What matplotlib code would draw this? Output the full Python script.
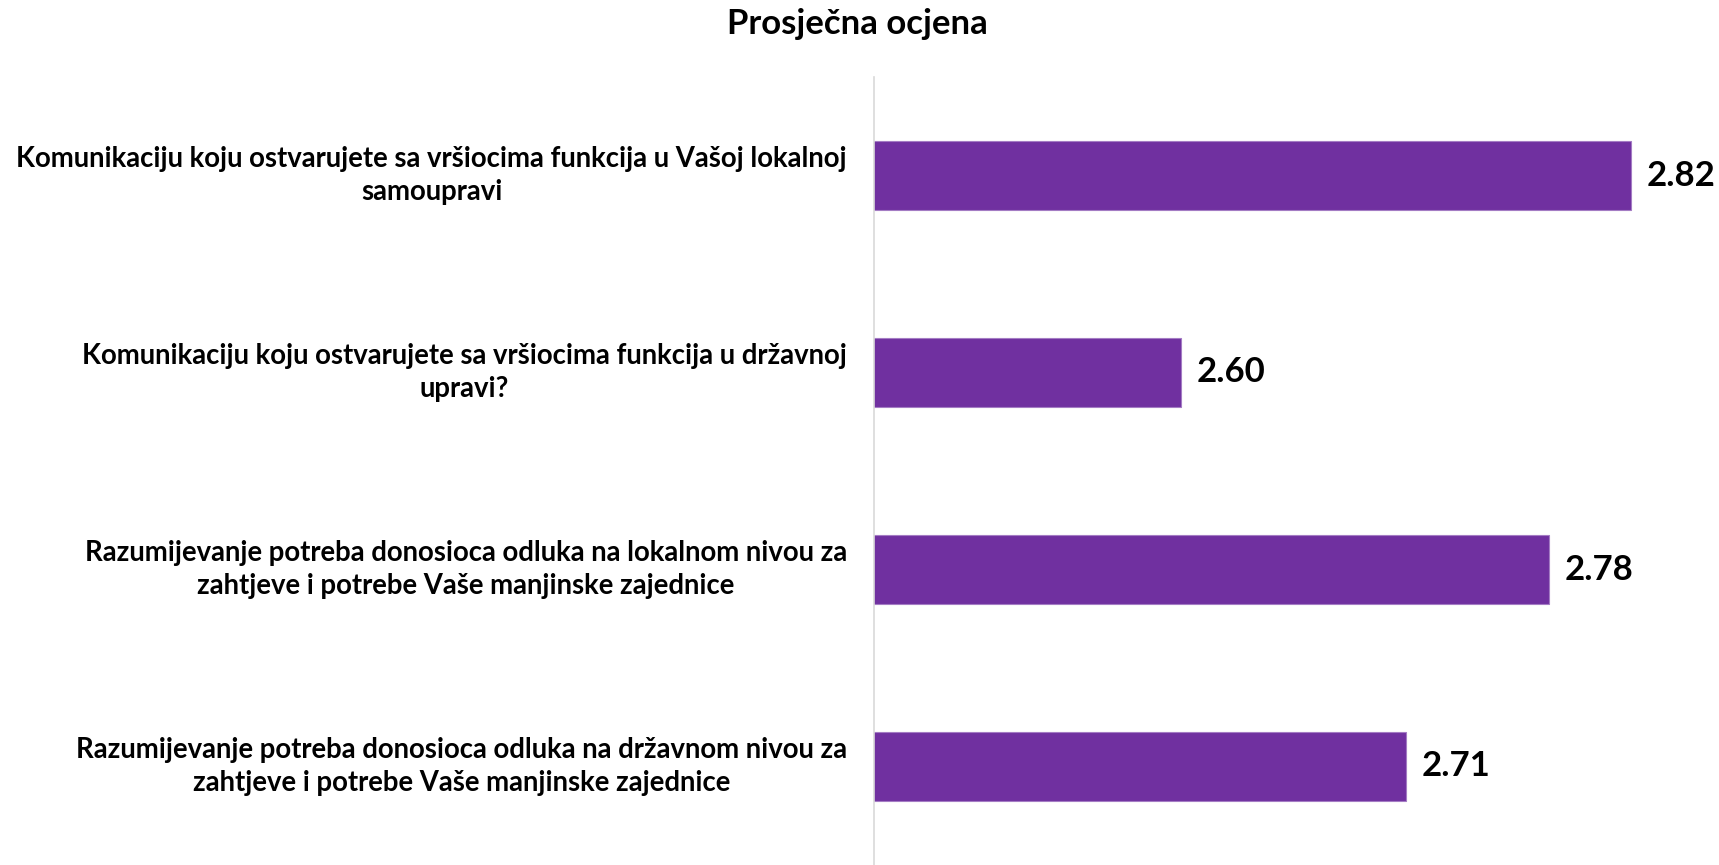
import matplotlib.pyplot as plt
from matplotlib.transforms import blended_transform_factory

plt.rcParams['font.family'] = ['Lato', 'DejaVu Sans']

kategorije = [
    'Komunikaciju koju ostvarujete sa vršiocima funkcija u Vašoj lokalnoj\nsamoupravi',
    'Komunikaciju koju ostvarujete sa vršiocima funkcija u državnoj\nupravi?',
    'Razumijevanje potreba donosioca odluka na lokalnom nivou za\nzahtjeve i potrebe Vaše manjinske zajednice',
    'Razumijevanje potreba donosioca odluka na državnom nivou za\nzahtjeve i potrebe Vaše manjinske zajednice',
]
vrijednosti = [2.82, 2.60, 2.78, 2.71]
naslov = 'Prosječna ocjena'

boja = '#7030A0'

fig = plt.figure(figsize=(17.19, 8.65), dpi=100)
ax = fig.add_axes([874 / 1719, 0.0, 1 - 874 / 1719, 1 - 77 / 865])

pozicije = list(range(len(vrijednosti)))
ax.barh(pozicije, vrijednosti, height=0.35, left=0, color=boja,
        edgecolor='#a47cc4', linewidth=0.8)
ax.set_xlim(2.45, 2.863)
ax.set_ylim(len(vrijednosti) - 0.5, -0.5)

for p, v in zip(pozicije, vrijednosti):
    ax.annotate(f'{v:.2f}', (v, p), xytext=(11, 0), textcoords='offset points',
                va='center', ha='left', fontsize=25, fontweight='bold')

trans = blended_transform_factory(fig.transFigure, ax.transData)
for p, k in zip(pozicije, kategorije):
    ax.text(847 / 1719, p, k, transform=trans, ha='right', va='center',
            multialignment='center', fontsize=19.8, fontweight='bold',
            linespacing=1.35)

ax.set_xticks([])
ax.set_yticks([])
for s in ['top', 'right', 'bottom']:
    ax.spines[s].set_visible(False)
ax.spines['left'].set_color('#d9d9d9')
ax.spines['left'].set_linewidth(1.2)

fig.text(0.499, 1 - 24 / 865, naslov, ha='center', va='center',
         fontsize=25, fontweight='bold')

fig.savefig('out.png', dpi=100)
